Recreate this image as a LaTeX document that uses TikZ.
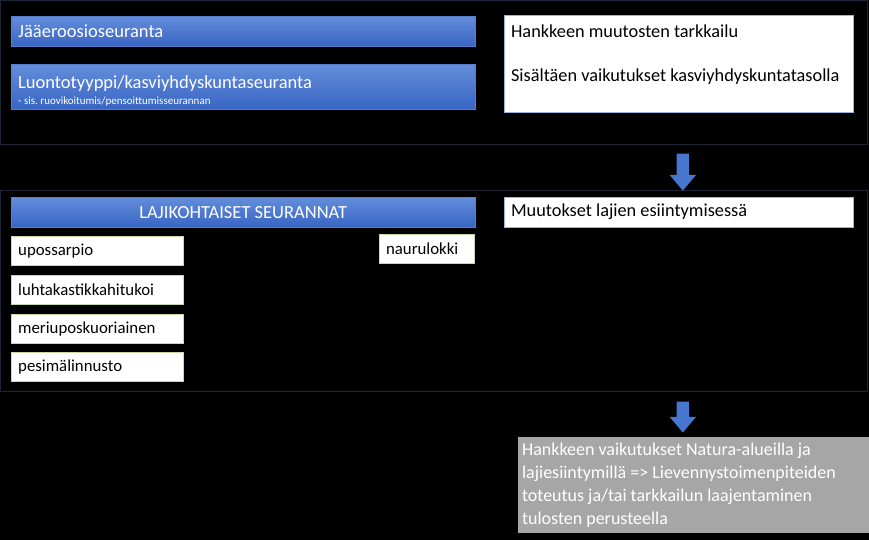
\documentclass[tikz,border=0pt]{standalone}
\usepackage{fontspec}
\setmainfont{Carlito}
\usetikzlibrary{positioning,shapes.arrows}
\definecolor{bartop}{RGB}{100,141,219}
\definecolor{barbot}{RGB}{56,101,195}
\definecolor{arrowblue}{RGB}{70,118,205}
\definecolor{framecol}{RGB}{28,38,54}
\definecolor{boxgray}{RGB}{166,166,166}
\definecolor{edgeblue}{RGB}{150,180,222}
\definecolor{edgegreen}{RGB}{198,218,168}
\tikzset{
  bar/.style={top color=bartop, bottom color=barbot, draw=barbot!85!white, anchor=north west,
    text=white, minimum width=464pt, text width=450pt, inner xsep=7pt, align=flush left,
    font=\fontsize{18.5}{21}\selectfont},
  whitebox/.style={fill=white, draw=edgeblue, anchor=north west, text=black,
    minimum width=349pt, text width=335pt, inner xsep=7pt, align=flush left,
    font=\fontsize{18.3}{22}\selectfont},
  species/.style={fill=white, draw=edgegreen, anchor=north west, text=black,
    minimum width=172pt, minimum height=29pt, text width=158pt, inner xsep=7pt, align=flush left,
    font=\fontsize{16.8}{21}\selectfont},
  downarrow/.style={single arrow, fill=arrowblue, rotate=-90, inner xsep=0pt, inner ysep=6pt,
    single arrow head extend=7pt, single arrow tip angle=80},
}
\frenchspacing
\begin{document}
\begin{tikzpicture}[x=1pt, y=-1pt]
\fill[black] (0,0) rectangle (869,540);
\draw[framecol, line width=1pt] (1,1) rectangle (868,145);
\draw[framecol, line width=1pt] (1,191) rectangle (868,392);

% ylempi osa
\node[bar, minimum height=30pt] (jaa) at (11,16) {Jääeroosioseuranta};
\node[bar, minimum height=44pt] (luonto) at (11,64)
  {\mbox{}\\Luontotyyppi/kasviyhdyskuntaseuranta\\[-5pt]{\fontsize{11}{12}\selectfont - sis. ruovikoitumis/pensoittumisseurannan}};
\node[whitebox, minimum height=97pt] (hank) at (504,15)
  {Hankkeen muutosten tarkkailu\\[22pt]Sisältäen vaikutukset kasviyhdyskuntatasolla\\[-8pt]\strut};

\node[downarrow, minimum height=37pt] (arrA) at (683,168.5) {};

% lajit
\node[bar, minimum height=30pt, align=flush center] (laji) at (11,197) {LAJIKOHTAISET SEURANNAT};
\node[whitebox, minimum height=30pt] (muut) at (504,197) {Muutokset lajien esiintymisessä};
\node[species] (upo) at (11,236) {upossarpio};
\node[species] (luhta) at (11,275) {luhtakastikkahitukoi};
\node[species] (meri) at (11,314) {meriuposkuoriainen};
\node[species] (pesi) at (11,352) {pesimälinnusto};
\node[species, minimum width=95pt, text width=81pt] (nauru) at (379,234) {naurulokki};

\node[downarrow, minimum height=31pt] (arrB) at (683,413.5) {};

% tulos
\node[fill=boxgray, anchor=north west, text=white, minimum width=351pt, minimum height=96pt,
  text width=343pt, inner xsep=4pt, align=flush left, font=\fontsize{18}{23}\selectfont] (tulos) at (518,437)
  {Hankkeen vaikutukset Natura-alueilla ja\\lajiesiintymillä => Lievennystoimenpiteiden\\toteutus ja/tai tarkkailun laajentaminen\\tulosten perusteella};
\end{tikzpicture}
\end{document}
